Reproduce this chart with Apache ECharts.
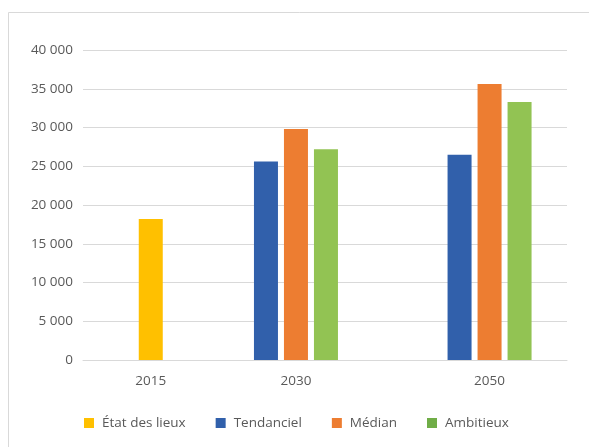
<!DOCTYPE html>
<html>
<head>
<meta charset="utf-8">
<script src="https://cdn.jsdelivr.net/npm/echarts@6.0.0/dist/echarts.min.js"></script>
<style>
  html, body { margin: 0; padding: 0; background: #fff; }
  #chart { width: 589px; height: 447px; }
</style>
</head>
<body>
<div id="chart"></div>
<script>
const years = [2015, 2030, 2050];
const etatDesLieux = [18200, null, null];
const tendanciel = [null, 25600, 26500];
const median = [null, 29800, 35600];
const ambitieux = [null, 27200, 33300];
const yTicks = [0, 5000, 10000, 15000, 20000, 25000, 30000, 35000, 40000];

function pairs(values) {
  return years.map((y, i) => [y, values[i]]).filter(p => p[1] !== null);
}
function fmt(v) {
  return String(v).replace(/\B(?=(\d{3})+(?!\d))/g, ' ');
}

const FONT = 'Open Sans';
const TXT = '#595959';
const FS = 13.5;

const chart = echarts.init(document.getElementById('chart'), null, { renderer: 'canvas' });
chart.setOption({
  animation: false,
  backgroundColor: '#ffffff',
  textStyle: { fontFamily: FONT },
  graphic: [{
    type: 'rect',
    shape: { x: 8.5, y: 12.5, width: 620, height: 460 },
    style: { fill: 'none', stroke: '#D9D9D9', lineWidth: 1 },
    silent: true
  }],
  grid: { left: 83, right: 22, top: 50, bottom: 87, containLabel: false },
  xAxis: [{
    type: 'value',
    min: 2008,
    max: 2058,
    axisLine: { show: true, lineStyle: { color: '#D9D9D9', width: 1 } },
    axisTick: { show: false },
    splitLine: { show: false },
    axisLabel: {
      customValues: years,
      formatter: v => String(v),
      color: TXT, fontSize: FS, fontFamily: FONT, margin: 14
    }
  }, {
    type: 'value',
    min: 2008,
    max: 2058,
    show: false
  }],
  yAxis: {
    type: 'value',
    min: yTicks[0],
    max: yTicks[yTicks.length - 1],
    interval: yTicks[1] - yTicks[0],
    axisLine: { show: false },
    axisTick: { show: false },
    splitLine: { lineStyle: { color: '#D9D9D9', width: 1 } },
    axisLabel: { formatter: fmt, color: TXT, fontSize: FS, fontFamily: FONT, margin: 10 }
  },
  legend: {
    left: 79,
    top: 411,
    icon: 'rect',
    itemWidth: 10,
    itemHeight: 10,
    itemGap: 30,
    textStyle: { color: TXT, fontSize: FS, fontFamily: FONT, padding: [0, 0, 0, 3] },
    data: [
      { name: 'État des lieux' },
      { name: 'Tendanciel' },
      { name: 'Médian' },
      { name: 'Ambitieux', itemStyle: { color: '#70AD47' } }
    ]
  },
  series: [
    { name: 'État des lieux', type: 'bar', xAxisIndex: 1, data: pairs(etatDesLieux),
      barWidth: 24, itemStyle: { color: '#FFC000' } },
    { name: 'Tendanciel', type: 'bar', xAxisIndex: 0, data: pairs(tendanciel),
      barWidth: 24, barGap: '25%', itemStyle: { color: '#3160AB' } },
    { name: 'Médian', type: 'bar', xAxisIndex: 0, data: pairs(median),
      barWidth: 24, barGap: '25%', itemStyle: { color: '#ED7D31' } },
    { name: 'Ambitieux', type: 'bar', xAxisIndex: 0, data: pairs(ambitieux),
      barWidth: 24, barGap: '25%', itemStyle: { color: '#92C353' } }
  ]
});
</script>
</body>
</html>
